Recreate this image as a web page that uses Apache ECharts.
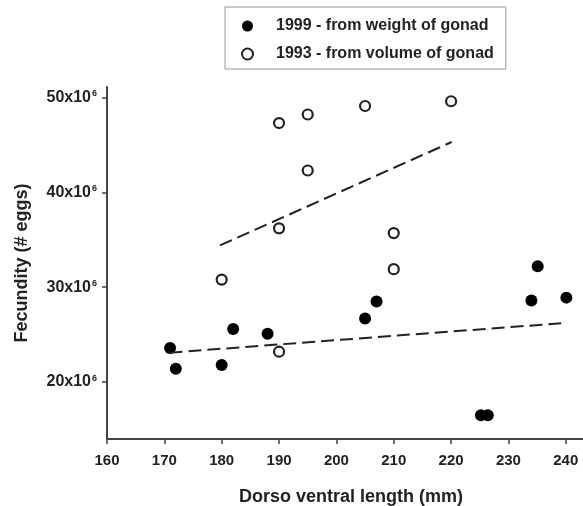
<!DOCTYPE html>
<html>
<head>
<meta charset="utf-8">
<script src="https://cdn.jsdelivr.net/npm/echarts@6/dist/echarts.min.js"></script>
<style>
  html, body { margin: 0; padding: 0; background: #fff; }
  #chart { width: 583px; height: 506px; }
</style>
</head>
<body>
<div id="chart"></div>
<script>
// fecundity in millions of eggs
var len1999 = [171, 172, 180, 182, 188, 205, 207, 225.2, 226.4, 234, 235.1, 240.1];
var fec1999 = [23.6, 21.4, 21.8, 25.6, 25.1, 26.7, 28.5, 16.5, 16.5, 28.6, 32.2, 28.9];

var len1993 = [190, 195, 205, 220, 195, 190, 210, 210, 180, 190];
var fec1993 = [47.3, 48.2, 49.1, 49.6, 42.3, 36.2, 35.7, 31.9, 30.8, 23.2];

// regression lines (end points)
var fit1999X = [170.9, 239.2];
var fit1999Y = [23.1, 26.2];
var fit1993X = [179.7, 220.1];
var fit1993Y = [34.4, 45.3];

var xTicks = [160, 170, 180, 190, 200, 210, 220, 230, 240];
var yTicks = [20, 30, 40, 50];

function pairs(xs, ys) {
  return xs.map(function (x, i) { return [x, ys[i]]; });
}

var ink = '#222';
var font = 'Liberation Sans, Arial, sans-serif';

var myChart = echarts.init(document.getElementById('chart'));

var option = {
  animation: false,
  backgroundColor: '#fff',
  textStyle: { fontFamily: font },
  legend: {
    orient: 'vertical',
    left: 225,
    top: 7,
    padding: [11, 12, 7, 16],
    itemGap: 12,
    itemWidth: 11,
    itemHeight: 11,
    borderColor: '#999',
    borderWidth: 1,
    data: ['1999 - from weight of gonad', '1993 - from volume of gonad'],
    textStyle: { fontSize: 16, fontWeight: 'bold', color: ink, padding: [0, 0, 0, 18] }
  },
  grid: { left: 107, right: 0, top: 87, bottom: 67, outerBoundsMode: 'none' },
  xAxis: {
    type: 'value',
    min: 160,
    max: 243,
    name: 'Dorso ventral length (mm)',
    nameLocation: 'middle',
    nameGap: 49,
    nameTextStyle: { fontSize: 18, fontWeight: 'bold', color: ink, padding: [0, 0, 0, 12] },
    splitLine: { show: false },
    axisLine: { lineStyle: { color: '#444', width: 2 } },
    axisTick: { customValues: xTicks, length: 5, lineStyle: { color: '#444', width: 1.5 } },
    axisLabel: { customValues: xTicks, margin: 14, fontSize: 15, fontWeight: 'bold', color: ink }
  },
  yAxis: {
    type: 'value',
    min: 14,
    max: 51.1,
    name: 'Fecundity (# eggs)',
    nameLocation: 'middle',
    nameGap: 76,
    nameTextStyle: { fontSize: 18, fontWeight: 'bold', color: ink },
    splitLine: { show: false },
    axisLine: { show: true, lineStyle: { color: '#444', width: 2 } },
    axisTick: { show: true, customValues: yTicks, length: 5, lineStyle: { color: '#444', width: 1.5 } },
    axisLabel: {
      customValues: yTicks,
      margin: 10,
      formatter: function (v) { return '{n|' + v + 'x10}{s|6}'; },
      rich: {
        n: { fontSize: 16, fontWeight: 'bold', color: ink, fontFamily: font },
        s: { fontSize: 9, fontWeight: 'bold', color: ink, fontFamily: font, padding: [0, 0, 8, 1] }
      }
    }
  },
  series: [
    {
      name: '1999 - from weight of gonad',
      type: 'scatter',
      symbolSize: 12,
      itemStyle: { color: '#000', opacity: 1 },
      data: pairs(len1999, fec1999)
    },
    {
      name: '1993 - from volume of gonad',
      type: 'scatter',
      symbolSize: 10,
      itemStyle: { color: '#fff', borderColor: '#222', borderWidth: 2.2, opacity: 1 },
      data: pairs(len1993, fec1993)
    },
    {
      type: 'line',
      showSymbol: false,
      silent: true,
      lineStyle: { color: '#222', width: 2, type: [13, 6] },
      data: pairs(fit1999X, fit1999Y)
    },
    {
      type: 'line',
      showSymbol: false,
      silent: true,
      lineStyle: { color: '#222', width: 2, type: [13, 6] },
      data: pairs(fit1993X, fit1993Y)
    }
  ]
};

myChart.setOption(option);
</script>
</body>
</html>
